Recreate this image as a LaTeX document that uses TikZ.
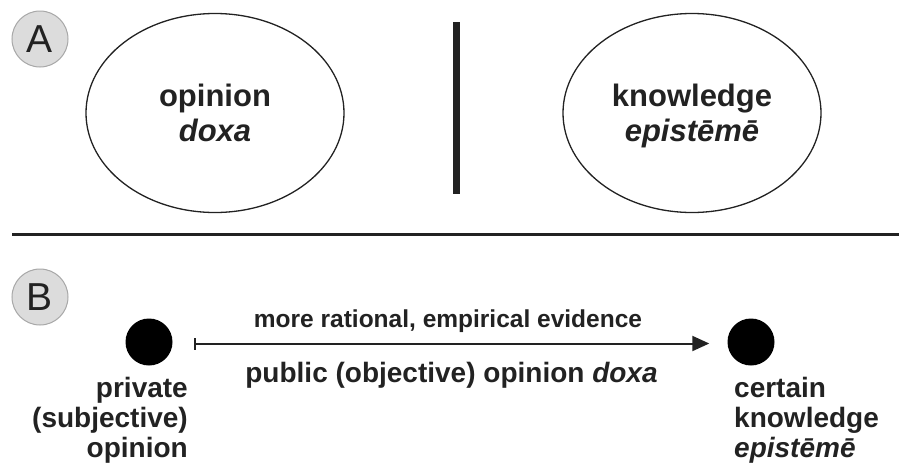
\documentclass[tikz,border=0pt]{standalone}
\usepackage{fontspec}
\setmainfont{Liberation Sans}
\usetikzlibrary{shapes.geometric,arrows.meta}
\definecolor{ink}{HTML}{222222}
\definecolor{tagfill}{HTML}{DCDCDC}
\definecolor{tagline}{HTML}{A8A8A8}
\begin{document}
\begin{tikzpicture}[x=1pt,y=-1pt,
  tag/.style={circle, draw=tagline, line width=1pt, fill=tagfill, minimum size=56pt, inner sep=0pt, text=ink, font=\fontsize{39}{39}\selectfont},
  idea/.style={ellipse, draw=ink, line width=1.3pt, minimum width=258pt, minimum height=199pt, inner sep=0pt, align=center, text depth=0pt, text=ink, font=\bfseries\fontsize{31}{35}\selectfont},
  blob/.style={circle, fill=black, minimum size=47pt, inner sep=0pt},
  caption/.style={text=ink, font=\bfseries\fontsize{28}{30}\selectfont, inner sep=0pt},
  rule/.style={draw=ink}
]
\useasboundingbox (0,0) rectangle (903,469);
% panel A
\node[tag] (tagA) at (40,39) {A};
\node[idea] (doxa) at (215,113) {opinion\\\textit{doxa}};
\node[idea] (episteme) at (692,113) {knowledge\\\textit{epistēmē}};
\coordinate (barTop) at (456,22);
\coordinate (barBot) at (456,194);
\draw[rule, line width=7pt] (barTop) -- (barBot);
% separator
\coordinate (sepL) at (12,234);
\coordinate (sepR) at (899,234);
\draw[rule, line width=3pt] (sepL) -- (sepR);
% panel B
\node[tag] (tagB) at (40,297) {B};
\node[blob] (private) at (149,342) {};
\node[blob] (certain) at (751,342) {};
\draw[rule, line width=2pt, {Bar[width=12pt,line width=1.5pt]}-{Triangle[length=17pt,width=15pt]}]
  ([xshift=21.5pt,yshift=-1.5pt]private.east) -- ([xshift=-18pt,yshift=-1.5pt]certain.west);
\node[caption, anchor=base east, align=right] (privLbl) at (188,457) {private\\(subjective)\\opinion};
\node[caption, anchor=base west, align=left] (certLbl) at (734,457) {certain\\knowledge\\\textit{epistēmē}};
\node[caption, anchor=base, font=\bfseries\fontsize{24.5}{28}\selectfont] (moreLbl) at (448,327) {more rational, empirical evidence};
\node[caption, anchor=base] (publicLbl) at (451.5,382) {public (objective) opinion \textit{doxa}};
\end{tikzpicture}
\end{document}
